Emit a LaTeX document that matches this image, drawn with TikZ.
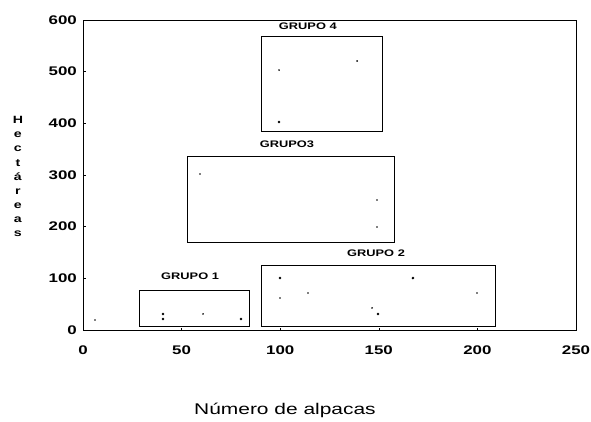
\documentclass[tikz,border=0pt]{standalone}
\usepackage{fontspec}
\newfontfamily\plotfont[FakeStretch=1.35]{Liberation Sans}
\begin{document}
\begin{tikzpicture}[x=1.972pt,y=0.5167pt,
    ticklab/.style={font=\plotfont\bfseries\fontsize{12.5}{13}\selectfont,inner sep=0pt},
    grplab/.style={font=\plotfont\bfseries\fontsize{9.5}{10}\selectfont,inner sep=0pt},
    grupobox/.style={line width=1pt},
    bigdot/.style={circle,fill,inner sep=0pt,minimum size=2.8pt},
    smalldot/.style={circle,fill,inner sep=0pt,minimum size=1.8pt}]
  \useasboundingbox (-83pt,-91pt) rectangle (508pt,330pt);

  \coordinate (o) at (0,0);
  \coordinate (tr) at (250,600);
  \draw[line width=0.8pt] (o) rectangle (tr);

  \foreach \v in {0,100,...,600}
    \node[ticklab,anchor=east] (y\v) at ([xshift=-6pt]0,\v) {\v};
  \foreach \v in {100,200,...,500}
    \draw (0,\v) -- ++(3pt,0);
  \foreach \v in {0,50,...,250}
    \node[ticklab,anchor=north] (x\v) at ([yshift=-15.5pt]\v,0) {\v};
  \foreach \v in {50,100,...,200}
    \draw (\v,0) -- ++(0,2pt);

  \foreach \c [count=\i] in {H,e,c,t,á,r,e,a,s}
    \node[font=\plotfont\bfseries\fontsize{10.5}{11}\selectfont,inner sep=0pt] (h\i) at ([yshift={224.25pt-\i*14.25pt}]-33,0) {\c};
  \node[font=\plotfont\fontsize{15.5}{16}\selectfont,inner sep=0pt] (xtitle) at ([yshift=-80pt]102.4,0) {Número de alpacas};

  \coordinate (g1sw) at (28.9,7.7);   \coordinate (g1ne) at (84.2,77.4);
  \coordinate (g2sw) at (90.3,7.7);   \coordinate (g2ne) at (209.4,123.9);
  \coordinate (g3sw) at (53.2,170);   \coordinate (g3ne) at (158.2,335);
  \coordinate (g4sw) at (90.3,385);   \coordinate (g4ne) at (152,569);
  \draw[grupobox] (g1sw) rectangle (g1ne);
  \draw[grupobox] (g2sw) rectangle (g2ne);
  \draw[grupobox] (g3sw) rectangle (g3ne);
  \draw[grupobox] (g4sw) rectangle (g4ne);
  \node[grplab] (lg1) at (54.3,104.5) {GRUPO 1};
  \node[grplab] (lg2) at (148.6,149) {GRUPO 2};
  \node[grplab] (lg3) at (103.4,360) {GRUPO3};
  \node[grplab] (lg4) at (114,588) {GRUPO 4};

  \foreach \p [count=\i] in {(99.4,402.6),(40.6,31),(40.6,21.3),(80.1,21.3),(99.9,100.6),(149.6,31),(167.3,100.6)}
    \node[bigdot] (b\i) at \p {};
  \foreach \p [count=\i] in {(99.4,503),(139,520.6),(59.3,302),(149.1,251.6),(149.1,199.3),(60.9,31),(6.1,19.4),(99.9,61.9),(114.1,71.6),(146.6,42.6),(199.8,71.6)}
    \node[smalldot] (s\i) at \p {};
\end{tikzpicture}
\end{document}
